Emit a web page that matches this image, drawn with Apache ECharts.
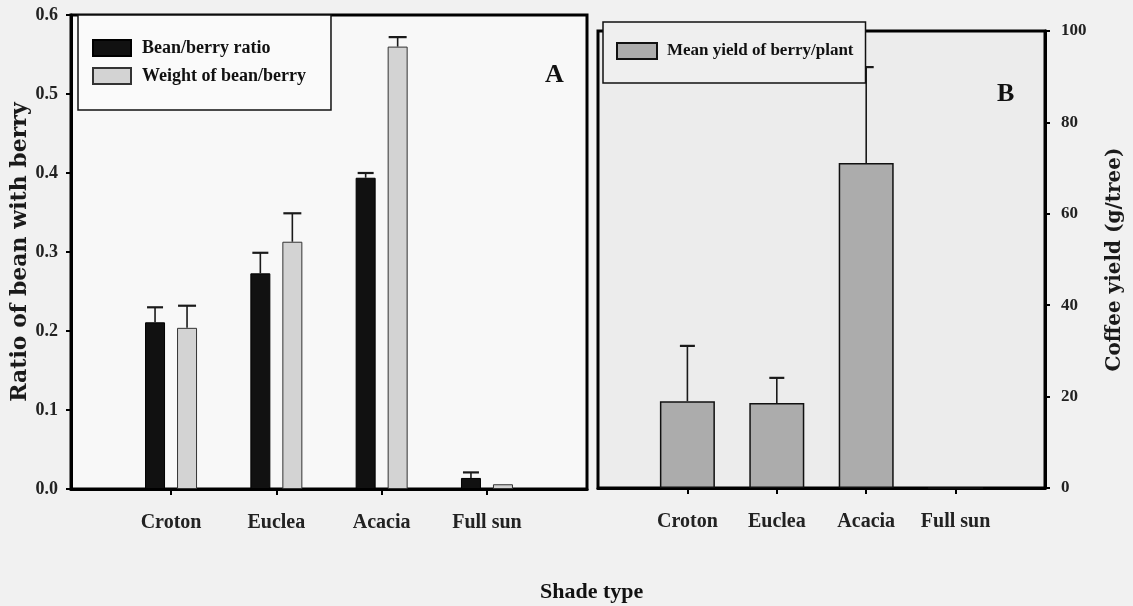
<!DOCTYPE html>
<html>
<head>
<meta charset="utf-8">
<script src="https://cdn.jsdelivr.net/npm/echarts@6/dist/echarts.min.js"></script>
<style>
html,body{margin:0;padding:0;background:#f1f1f1;}
#chart{width:1133px;height:606px;}
</style>
</head>
<body>
<div id="chart"></div>
<script>
// ---- data ----
var categories = ['Croton', 'Euclea', 'Acacia', 'Full sun'];
var beanBerryRatio = [0.211, 0.273, 0.394, 0.014];
var beanBerryRatioErr = [0.019, 0.026, 0.006, 0.007];
var weightBeanBerry = [0.204, 0.313, 0.560, 0.006];
var weightBeanBerryErr = [0.028, 0.036, 0.012, 0];
var meanYield = [19.0, 18.6, 71.1, 0];
var meanYieldErr = [12.1, 5.5, 21.0, 0];
var ratioTicks = [0, 0.1, 0.2, 0.3, 0.4, 0.5, 0.6];
var yieldTicks = [0, 20, 40, 60, 80, 100];

// ---- styling ----
var SERIF = '"Liberation Serif", "Times New Roman", serif';
var WIDE = '"DejaVu Serif", serif';
var catPos = categories.map(function (c, i) { return i + 1; });
var barWA = 20, gapA = 12, barWB = 55;
var offA = (barWA + gapA) / 2;

function pts(vals) { return vals.map(function (v, i) { return [i + 1, v]; }); }
function errPts(vals, errs) { return vals.map(function (v, i) { return [i + 1, v, errs[i]]; }); }
function errRenderer(offset, cap) {
  return function (params, api) {
    var x = api.value(0), v = api.value(1), e = api.value(2);
    if (!e) return null;
    var p0 = api.coord([x, v]);
    var p1 = api.coord([x, v + e]);
    var cx = p0[0] + offset;
    return {
      type: 'group',
      children: [
        { type: 'line', shape: { x1: cx, y1: p0[1], x2: cx, y2: p1[1] }, style: { stroke: '#1a1a1a', lineWidth: 1.6 } },
        { type: 'line', shape: { x1: cx - cap / 2, y1: p1[1], x2: cx + cap / 2, y2: p1[1] }, style: { stroke: '#1a1a1a', lineWidth: 2.2 } }
      ]
    };
  };
}
function catLabel(v) { return categories[Math.round(v) - 1] || ''; }

var chart = echarts.init(document.getElementById('chart'));
chart.setOption({
  animation: false,
  backgroundColor: '#f1f1f1',
  title: [
    { text: 'A', left: 540, top: 57, textStyle: { fontFamily: SERIF, fontWeight: 'bold', fontSize: 26, color: '#111' } },
    { text: 'B', left: 992, top: 76, textStyle: { fontFamily: SERIF, fontWeight: 'bold', fontSize: 26, color: '#111' } },
    { text: 'Shade type', left: 535, top: 576, textStyle: { fontFamily: SERIF, fontWeight: 'bold', fontSize: 22, color: '#111' } }
  ],
  legend: [
    {
      data: ['Bean/berry ratio', 'Weight of bean/berry'],
      left: 78, top: 15, orient: 'vertical',
      icon: 'rect', itemWidth: 38, itemHeight: 16, itemGap: 10,
      padding: [24, 25, 25, 14],
      borderColor: '#111', borderWidth: 1.5, backgroundColor: '#fafafa',
      textStyle: { fontFamily: SERIF, fontWeight: 'bold', fontSize: 18, color: '#111', padding: [0, 0, 0, 6] }
    },
    {
      data: ['Mean yield of berry/plant'],
      left: 603, top: 22, orient: 'vertical',
      icon: 'rect', itemWidth: 40, itemHeight: 16, itemGap: 10,
      padding: [20, 12, 23, 13],
      borderColor: '#111', borderWidth: 1.5, backgroundColor: '#efefef',
      textStyle: { fontFamily: SERIF, fontWeight: 'bold', fontSize: 17, color: '#111', padding: [0, 0, 0, 5] }
    }
  ],
  grid: [
    { left: 71, top: 15, width: 516, height: 474, show: true, borderColor: '#000', borderWidth: 3, backgroundColor: '#f8f8f8' },
    { left: 598, top: 31, width: 447, height: 457, show: true, borderColor: '#000', borderWidth: 3, backgroundColor: '#ececec' }
  ],
  xAxis: [
    {
      type: 'value', gridIndex: 0, min: 0.05, max: 4.95,
      axisLine: { show: true, onZero: false, lineStyle: { color: '#000', width: 3 } },
      axisTick: { show: true, inside: false, customValues: catPos, length: 6, lineStyle: { color: '#000', width: 2 } },
      axisLabel: { customValues: catPos, formatter: catLabel, margin: 24, fontFamily: SERIF, fontWeight: 'bold', fontSize: 20, color: '#222' },
      splitLine: { show: false }
    },
    {
      type: 'value', gridIndex: 1, min: 0, max: 5,
      axisLine: { show: true, onZero: false, lineStyle: { color: '#000', width: 3 } },
      axisTick: { show: true, inside: false, customValues: catPos, length: 6, lineStyle: { color: '#000', width: 2 } },
      axisLabel: { customValues: catPos, formatter: catLabel, margin: 24, fontFamily: SERIF, fontWeight: 'bold', fontSize: 20, color: '#222' },
      splitLine: { show: false }
    }
  ],
  yAxis: [
    {
      type: 'value', gridIndex: 0, min: ratioTicks[0], max: ratioTicks[ratioTicks.length - 1], interval: 0.1,
      name: 'Ratio of bean with berry', nameLocation: 'middle', nameGap: 39, nameRotate: 90,
      nameTextStyle: { fontFamily: WIDE, fontWeight: 'bold', fontSize: 22, letterSpacing: 2.7, color: '#1a1a1a' },
      axisLine: { show: true, onZero: false, lineStyle: { color: '#000', width: 3 } },
      axisTick: { show: true, inside: false, length: 5, lineStyle: { color: '#000', width: 2 } },
      axisLabel: { formatter: function (v) { return v.toFixed(1); }, margin: 13, fontFamily: SERIF, fontWeight: 'bold', fontSize: 18, color: '#222' },
      splitLine: { show: false }
    },
    {
      type: 'value', gridIndex: 1, position: 'right', min: yieldTicks[0], max: yieldTicks[yieldTicks.length - 1], interval: 20,
      name: 'Coffee yield (g/tree)', nameLocation: 'middle', nameGap: 60, nameRotate: 90,
      nameTextStyle: { fontFamily: WIDE, fontWeight: 'bold', fontSize: 20, letterSpacing: 1.2, color: '#1a1a1a' },
      axisLine: { show: true, onZero: false, lineStyle: { color: '#000', width: 3 } },
      axisTick: { show: true, inside: false, length: 5, lineStyle: { color: '#000', width: 2 } },
      axisLabel: { margin: 16, fontFamily: SERIF, fontWeight: 'bold', fontSize: 17, color: '#222' },
      splitLine: { show: false }
    }
  ],
  series: [
    {
      name: 'Bean/berry ratio', type: 'bar', xAxisIndex: 0, yAxisIndex: 0,
      barWidth: barWA, barGap: (gapA / barWA * 100) + '%',
      itemStyle: { color: '#111', borderColor: '#000', borderWidth: 1 },
      data: pts(beanBerryRatio)
    },
    {
      name: 'Weight of bean/berry', type: 'bar', xAxisIndex: 0, yAxisIndex: 0,
      barWidth: barWA, barGap: (gapA / barWA * 100) + '%',
      itemStyle: { color: '#d3d3d3', borderColor: '#333', borderWidth: 1 },
      data: pts(weightBeanBerry)
    },
    {
      name: 'Mean yield of berry/plant', type: 'bar', xAxisIndex: 1, yAxisIndex: 1,
      barWidth: barWB,
      itemStyle: { color: '#acacac', borderColor: '#111', borderWidth: 1.5 },
      data: pts(meanYield)
    },
    {
      type: 'custom', xAxisIndex: 0, yAxisIndex: 0, z: 3,
      renderItem: errRenderer(-offA, 16), encode: { x: 0, y: 1 },
      data: errPts(beanBerryRatio, beanBerryRatioErr)
    },
    {
      type: 'custom', xAxisIndex: 0, yAxisIndex: 0, z: 3,
      renderItem: errRenderer(offA, 18), encode: { x: 0, y: 1 },
      data: errPts(weightBeanBerry, weightBeanBerryErr)
    },
    {
      type: 'custom', xAxisIndex: 1, yAxisIndex: 1, z: 3,
      renderItem: errRenderer(0, 15), encode: { x: 0, y: 1 },
      data: errPts(meanYield, meanYieldErr)
    }
  ]
});
</script>
</body>
</html>
